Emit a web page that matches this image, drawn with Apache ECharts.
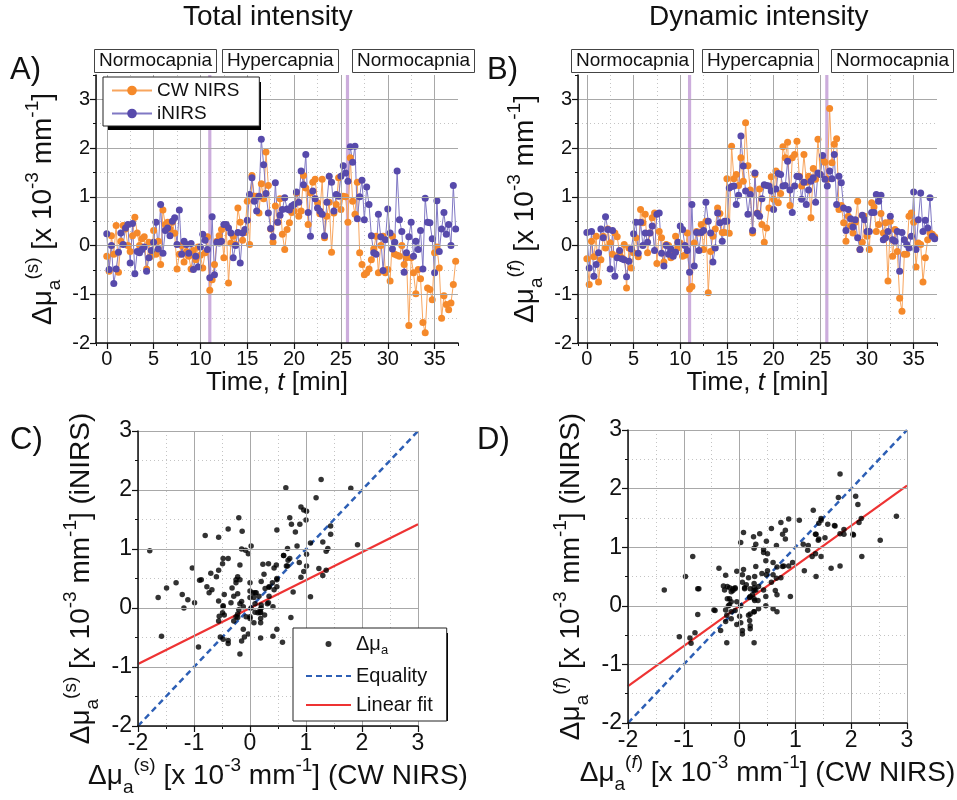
<!DOCTYPE html>
<html>
<head>
<meta charset="utf-8">
<script src="https://cdn.jsdelivr.net/npm/echarts@6.0.0/dist/echarts.min.js"></script>
<style>
  html, body { margin: 0; padding: 0; background: #fff; }
  #chart { width: 957px; height: 800px; }
</style>
</head>
<body>
<div id="chart"></div>
<script>
// ---- data (x 10^-3 mm^-1), one sample every 15 s ----
const SAMPLE_MIN = 0.25;

// A) total intensity
const cwS = [
  -0.22, -0.53, 0.2, -0.18, 0.41, -0.55, 0.09, 0.41, 0.34, 0, -0.12, 0.2,
  0.58, 0.26, 0, 0.14, 0.18, -0.48, 0.07, -0.22, 0.31, -0.18, 0.09, -0.39,
  0.73, 0.43, 0.48, 0.34, 0.48, 0.25, -0.48, -0.18, 0, -0.34, -0.12, -0.22,
  -0.48, -0.1, -0.29, -0.03, -0.2, -0.46, -0.15, 0.18, -0.92, -0.7, -0.39, 0.09,
  0.2, 0.33, -0.25, 0.4, -0.77, 0.05, 0.19, 0.02, 0.77, 0.48, 0.11, 0.27,
  0.91, 0.02, 1.44, 1.01, 1.01, 0.67, 1.27, 0.96, 1.92, 1.23, 0.34, 0.07,
  0.81, 0.48, 0.96, 0.23, -0.08, 0.33, 0.47, 0.68, 0.71, 1.08, 0.6, 0.71,
  1.44, 1.18, 0.43, 1.08, 1.3, 1.36, 0.88, 0.65, 1.36, 0.16, 0.6, 0.89,
  -0.14, 0.67, 0.84, 1.39, 0.74, 1.01, 1.0, 0.48, 1.8, 0.91, 0.64, 1.3,
  -0.15, -0.39, -0.6, -0.56, -0.48, -0.29, -0.07, 0.19, -0.56, 0, 0.19, -0.56,
  -0.49, -0.73, 0.19, -0.18, -0.2, -0.22, 0, -0.39, -0.25, -1.64, -0.25, -0.56,
  -0.99, -0.49, -0.68, -1.58, -1.79, -0.87, -0.9, -1.11, -0.15, -0.03, -0.46, -1.49,
  -1.03, -1.21, -1.32, -1.18, -0.8, -0.32
];
const inS = [
  0.24, -0.49, 0, -0.78, -0.48, -0.14, 0.26, 0.02, 0.36, 0.43, -0.36, 0.45,
  -0.58, -0.12, -0.15, -0.08, -0.03, -0.53, -0.25, -0.1, 0.07, 0.48, -0.07, 0.84,
  -0.16, 0.31, 0.36, 0.2, 0.5, 0.57, 0.02, 0.73, -0.18, 0.09, 0.02, -0.16,
  0.04, -0.49, -0.22, -0.44, -0.03, 0.23, 0.11, -0.08, -0.66, 0.59, -0.6, 0.07,
  0.05, 0.09, 0.43, 0.43, 0.36, 0.26, -0.25, 0, 0.27, -0.36, 0.26, 0.33,
  0.52, 1.05, 1.39, 0.91, 0.71, 1.01, 2.18, 1.66, 1.07, 0.67, 0.35, 0.18,
  1.29, 0.48, 0.62, 0.74, 0.98, 0.75, 0.73, 0.81, 0.84, 1.1, 0.89, 1.53,
  1.25, 1.87, 0.68, 0.19, 1.12, 0.96, 0.77, 0.71, 0.64, 0.2, 0.89, 1.42,
  1.3, 0.71, 1.05, 1.01, 1.42, 1.64, 1.49, 1.32, 2.03, 1.71, 2.04, 0.55,
  1.0, 1.34, 0.53, 1.2, 0.84, 0.2, -0.15, -0.18, 0.64, 0.18, -0.51, 0.12,
  0.75, 0.26, -0.07, 0.07, 1.53, 0.53, 0.29, -0.55, -0.15, 0.18, 0.48, -0.22,
  0.09, -0.08, 0.31, -0.48, 0.97, 0.48, 0.47, 0.14, -0.56, 0.92, -0.12, 0.34,
  0.68, 0.23, 0.43, 0, 1.23, 0.34
];

// B) dynamic intensity
const cwF = [
  -0.27, -0.8, 0.09, -0.23, 0.19, -0.75, -0.29, 0.19, -0.05, 0.34, 0.05, -0.18,
  0.26, 0.18, -0.15, -0.25, 0.02, -0.87, -0.05, -0.46, -0.15, 0.16, -0.23, 0.74,
  0.47, 0.64, -0.15, 0.26, 0.57, 0.67, -0.37, 0.29, 0.16, -0.34, 0.02, 0,
  -0.25, -0.15, 0.19, -0.05, 0.05, -0.22, -0.2, 0.26, -0.89, -0.84, 0.05, 0.29,
  0.26, 0.43, -0.08, 0.5, -0.97, -0.12, 0.19, 0.34, 0.77, 0.66, 0.27, 0.27,
  1.37, 0.25, 2.04, 1.37, 1.46, 1.23, 1.8, 1.32, 2.52, 1.64, 1.14, 0.26,
  1.46, 0.67, 1.16, 0.43, 0.07, 0.36, 0.77, 1.41, 0.95, 1.53, 0.88, 1.07,
  2.03, 1.8, 2.12, 0.82, 1.8, 1.87, 2.14, 1.42, 1.22, 1.87, 1.3, 1.42,
  0.57, 1.58, 1.36, 2.18, 1.46, 1.77, 1.71, 1.36, 2.81, 1.7, 2.08, 2.19,
  0.74, 0.82, 0.47, 0.09, 0.6, 0.4, 0.26, 0.48, 0.91, -0.08, 0.07, 0.6,
  0.19, -0.08, 0.88, 0.79, 0.29, 0.43, 0.66, 0.26, 0.47, -0.73, 0.5, -0.22,
  0.33, -0.12, -1.08, -1.35, -0.18, -0.18, 0.6, 0.67, 0.48, -0.44, 0.05, 0.02,
  -0.75, -0.25, 0.12, 0.26, 0.23, 0.18
];
const inF = [
  0.27, -0.46, 0.29, -0.63, -0.39, -0.15, 0.34, 0.16, 0.59, 0.33, -0.48, 0.31,
  -0.63, -0.25, -0.1, -0.27, -0.29, -0.64, -0.32, -0.07, 0.24, 0.48, -0.16, 0.48,
  0, 0.26, 0.07, 0.26, 0.4, -0.1, 0.64, 0.67, -0.16, -0.42, 0, -0.18,
  -0.07, -0.22, -0.14, 0.07, 0.4, 0.33, 0, -0.1, -0.55, 0.84, -0.42, 0.27,
  -0.1, 0.27, 0.31, 0.89, 0.5, 0.26, -0.34, -0.05, 0.67, 0.47, 0.09, 0.5,
  0.5, 1.18, 1.21, 1.22, 0.84, 1.03, 2.25, 1.63, 1.12, 0.64, 1.05, 0.31,
  1.49, 0.66, 0.6, 0.96, 1.25, 1.23, 1.22, 1.12, 0.74, 1.16, 1.48, 1.46,
  1.22, 1.23, 1.73, 1.14, 0.68, 1.22, 1.42, 1.41, 0.95, 1.3, 0.84, 1.14,
  1.32, 1.39, 0.89, 1.49, 1.46, 1.85, 1.36, 1.22, 1.53, 1.37, 1.87, 0.84,
  1.42, 1.29, 0.77, 0.31, 0.74, 0.55, 0.38, 0.53, 0.16, -0.08, 0.62, 0.53,
  0.29, 0.29, 0.68, 0.68, 1.05, 0.91, 1.03, 0.12, 0.16, 0.29, 0.6, 0.12,
  0.09, 0.29, -0.53, 0.27, 0.12, 0.02, -0.05, 0.19, 1.1, -0.08, 0.53, 1.08,
  0.29, 0.52, 0.36, 0.98, 0.19, 0.14
];

// phase changes (min) and their labels
const switchTimes = [11.0, 25.7];
const phases = ['Normocapnia', 'Hypercapnia', 'Normocapnia'];

// C) / D) reference lines, end points
const equality = [[-2, -2], [3, 3]];
const fitS = [[-2, -0.95], [3, 1.42]];
const fitF = [[-2, -1.37], [3, 2.05]];

// ---- style ----
const FONT = '"Liberation Sans", Arial, sans-serif';
const INK = '#111';
const MAJOR_GRID = '#a8a8a8';
const MINOR_GRID = '#c4c4c4';
const ORANGE = '#f5892a';
const ORANGE_LINE = '#f8a55e';
const PURPLE = '#574aab';
const PURPLE_LINE = '#8078c4';
const EQ_BLUE = '#2d5fb5';
const FIT_RED = '#ee3333';
const BAND_HALF = 0.17;

function richFor(fs) {
  const s = Math.round(fs * 0.68);
  return {
    n: { fontFamily: FONT, fontSize: fs, color: INK, lineHeight: Math.round(fs * 1.45) },
    i: { fontFamily: FONT, fontSize: fs, color: INK, fontStyle: 'italic', lineHeight: Math.round(fs * 1.45) },
    sub: { fontFamily: FONT, fontSize: s, color: INK, verticalAlign: 'bottom', lineHeight: s },
    sup: { fontFamily: FONT, fontSize: s, color: INK, verticalAlign: 'top', lineHeight: s },
    supi: { fontFamily: FONT, fontSize: s, color: INK, fontStyle: 'italic', verticalAlign: 'top', lineHeight: s }
  };
}

function muLabel(kind, tail) {
  const k = kind === 's' ? '{sup|(s)}' : '{sup|(}{supi|f}{sup|)}';
  return '{n|Δμ}{sub|a}' + k + '{n| [x 10}{sup|-3}{n| mm}{sup|-1}{n|]' + (tail ? ' ' + tail : '') + '}';
}

function axisPair(o) {
  const pos = o.dim === 'x' ? 'bottom' : 'left';
  const step = (v) => (o.fromZero ? { minInterval: v, maxInterval: v } : { interval: v });
  const major = Object.assign({
    type: 'value', gridIndex: o.grid, position: pos, min: o.min, max: o.max, z: 5,
    axisLine: { show: true, onZero: false, lineStyle: { color: INK, width: 1.5 } },
    axisTick: { show: true, inside: false, length: 6, lineStyle: { color: INK, width: 1.2 } },
    axisLabel: {
      show: true, color: INK, fontFamily: FONT, fontSize: o.fontSize, margin: 6,
      showMinLabel: !o.hideMin, showMaxLabel: !o.hideMax
    },
    splitLine: { show: true, showMaxLine: !o.hideMax, lineStyle: { color: MAJOR_GRID, width: 1 } },
    name: o.name, nameLocation: 'middle', nameGap: o.nameGap, nameRotate: o.dim === 'y' ? 90 : 0,
    nameTextStyle: { fontFamily: FONT, fontSize: o.nameSize, color: INK, rich: richFor(o.nameSize) }
  }, step(o.major));
  const minor = Object.assign({
    type: 'value', gridIndex: o.grid, position: pos, min: o.min, max: o.max,
    axisLine: { show: false, onZero: false },
    axisLabel: { show: false },
    axisTick: { show: true, inside: false, length: 3, lineStyle: { color: INK, width: 1 } },
    splitLine: { show: true, showMaxLine: !o.hideMax, lineStyle: { color: MINOR_GRID, width: 1, type: [1, 3] } }
  }, step(o.minor));
  return [major, minor];
}

const timeName = '{n|Time, }{i|t}{n| [min]}';

const xAxis = [].concat(
  axisPair({ dim: 'x', grid: 0, min: -1.15, max: 37.5, major: 5, minor: 2.5, fromZero: true, fontSize: 20,
    hideMin: true, hideMax: true, name: timeName, nameGap: 18, nameSize: 26 }),
  axisPair({ dim: 'x', grid: 1, min: -0.95, max: 37.5, major: 5, minor: 2.5, fromZero: true, fontSize: 20,
    hideMin: true, hideMax: true, name: timeName, nameGap: 18, nameSize: 26 }),
  axisPair({ dim: 'x', grid: 2, min: -2, max: 3, major: 1, minor: 0.5, fontSize: 23,
    name: muLabel('s', '(CW NIRS)'), nameGap: 26, nameSize: 28 }),
  axisPair({ dim: 'x', grid: 3, min: -2, max: 3, major: 1, minor: 0.5, fontSize: 23,
    name: muLabel('f', '(CW NIRS)'), nameGap: 28, nameSize: 28 })
);
const yAxis = [].concat(
  axisPair({ dim: 'y', grid: 0, min: -2, max: 3.5, major: 1, minor: 0.5, fontSize: 20,
    hideMax: true, name: muLabel('s'), nameGap: 32, nameSize: 28 }),
  axisPair({ dim: 'y', grid: 1, min: -2, max: 3.5, major: 1, minor: 0.5, fontSize: 20,
    hideMax: true, name: muLabel('f'), nameGap: 32, nameSize: 28 }),
  axisPair({ dim: 'y', grid: 2, min: -2, max: 3, major: 1, minor: 0.5, fontSize: 23,
    name: muLabel('s', '(iNIRS)'), nameGap: 36, nameSize: 28 }),
  axisPair({ dim: 'y', grid: 3, min: -2, max: 3, major: 1, minor: 0.5, fontSize: 23,
    name: muLabel('f', '(iNIRS)'), nameGap: 36, nameSize: 28 })
);

function timeSeries(name, values, color, lineColor, ax) {
  return {
    name: name, type: 'line', xAxisIndex: ax, yAxisIndex: ax, z: 3,
    data: values.map((v, i) => [i * SAMPLE_MIN, v]),
    symbol: 'circle', symbolSize: 7, showSymbol: true,
    itemStyle: { color: color },
    lineStyle: { color: lineColor, width: 1 },
    emphasis: { disabled: true }
  };
}

function bandSeries(ax) {
  return {
    type: 'line', xAxisIndex: ax, yAxisIndex: ax, z: 1, silent: true, data: [],
    markArea: {
      silent: true,
      itemStyle: { color: 'rgba(198,164,216,0.9)' },
      data: switchTimes.map((t) => [{ xAxis: t - BAND_HALF }, { xAxis: t + BAND_HALF }])
    }
  };
}

function scatterPanel(cw, inirs, fit, ax) {
  return [
    { name: 'Linear fit', type: 'line', xAxisIndex: ax, yAxisIndex: ax, z: 3, data: fit,
      symbol: 'none', itemStyle: { color: FIT_RED },
      lineStyle: { color: FIT_RED, width: 2.2 }, emphasis: { disabled: true } },
    { name: 'Equality', type: 'line', xAxisIndex: ax, yAxisIndex: ax, z: 3, data: equality,
      symbol: 'none', itemStyle: { color: EQ_BLUE },
      lineStyle: { color: EQ_BLUE, width: 2.5, type: [6, 4] }, emphasis: { disabled: true } },
    { name: 'dmu', type: 'scatter', xAxisIndex: ax, yAxisIndex: ax, z: 4,
      data: cw.map((v, i) => [v, inirs[i]]), symbolSize: 5.5, itemStyle: { color: '#000' } }
  ];
}

const series = [
  bandSeries(0),
  timeSeries('CW NIRS', cwS, ORANGE, ORANGE_LINE, 0),
  timeSeries('iNIRS', inS, PURPLE, PURPLE_LINE, 0),
  bandSeries(2),
  timeSeries('CW NIRS', cwF, ORANGE, ORANGE_LINE, 2),
  timeSeries('iNIRS', inF, PURPLE, PURPLE_LINE, 2)
].concat(scatterPanel(cwS, inS, fitS, 4), scatterPanel(cwF, inF, fitF, 6));

function plainTitle(text, left, top, size) {
  return { text: text, left: left, top: top, padding: 0,
    textStyle: { fontFamily: FONT, fontSize: size, fontWeight: 'normal', color: INK } };
}
function phaseBox(text, left) {
  return { text: text, left: left, top: 49, padding: [2, 5], borderColor: '#444', borderWidth: 1,
    backgroundColor: '#fff',
    textStyle: { fontFamily: FONT, fontSize: 19, fontWeight: 'normal', color: INK, lineHeight: 20 } };
}
const boxLeftA = [94, 222, 352];
const boxLeftB = [571, 702, 831];

// drop shadows behind the two legend boxes
function legendShadow(x, y, w, h) {
  return { type: 'rect', z: 8, silent: true, shape: { x: x + 5, y: y + 5, width: w, height: h },
    style: { fill: '#000' } };
}

const legendBase = {
  orient: 'vertical', backgroundColor: '#fff', borderColor: '#222', borderWidth: 1,
  selectedMode: false, z: 10
};

const option = {
  backgroundColor: '#fff',
  animation: false,
  title: [
    plainTitle('Total intensity', 183, 3, 28),
    plainTitle('Dynamic intensity', 649, 3, 28),
    plainTitle('A)', 10, 55, 31),
    plainTitle('B)', 487, 55, 31),
    plainTitle('C)', 10, 425, 31),
    plainTitle('D)', 477, 425, 31)
  ].concat(phases.map((p, i) => phaseBox(p, boxLeftA[i])), phases.map((p, i) => phaseBox(p, boxLeftB[i]))),
  grid: [
    { left: 96, top: 75, width: 362, height: 268, outerBoundsMode: 'none' },
    { left: 578, top: 75, width: 359, height: 268, outerBoundsMode: 'none' },
    { left: 138, top: 431, width: 280, height: 295, outerBoundsMode: 'none' },
    { left: 628, top: 430, width: 279, height: 293, outerBoundsMode: 'none' }
  ],
  graphic: [legendShadow(103, 77, 153, 48), legendShadow(293, 628, 150, 88)],
  legend: [
    Object.assign({}, legendBase, {
      data: ['CW NIRS', 'iNIRS'], left: 103, top: 77, width: 153, height: 48,
      itemWidth: 40, itemHeight: 12, itemGap: 4, padding: [4, 20, 3, 8],
      textStyle: { fontFamily: FONT, fontSize: 19, color: INK }
    }),
    Object.assign({}, legendBase, {
      data: [
        { name: 'dmu' },
        { name: 'Equality', itemStyle: { opacity: 0 } },
        { name: 'Linear fit', itemStyle: { opacity: 0 } }
      ],
      left: 293, top: 628,
      itemWidth: 45, itemHeight: 6, itemGap: 9, padding: [6, 14, 6, 12],
      formatter: (n) => (n === 'dmu' ? '{m|Δμ}{s|a}' : n),
      textStyle: {
        fontFamily: FONT, fontSize: 20, color: INK,
        rich: {
          m: { fontFamily: FONT, fontSize: 20, color: INK, lineHeight: 26 },
          s: { fontFamily: FONT, fontSize: 13, color: INK, verticalAlign: 'bottom', lineHeight: 13 }
        }
      }
    })
  ],
  xAxis: xAxis,
  yAxis: yAxis,
  series: series
};

const chart = echarts.init(document.getElementById('chart'), null, { renderer: 'canvas' });
chart.setOption(option);
</script>
</body>
</html>
